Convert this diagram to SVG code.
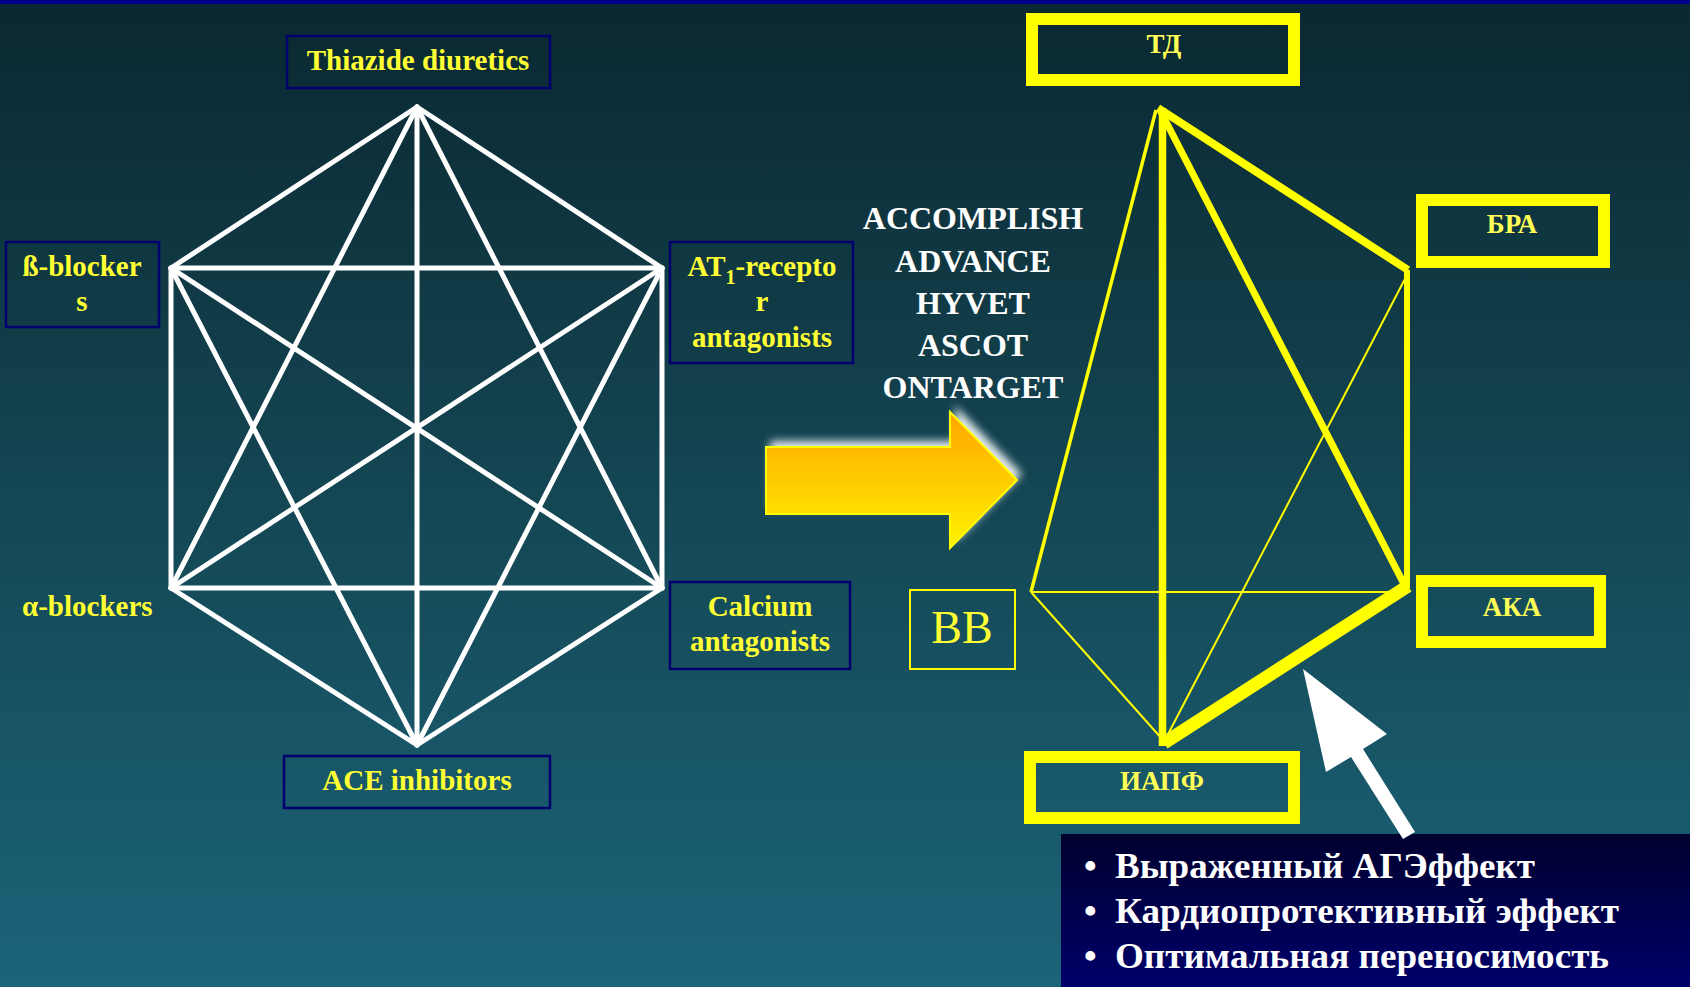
<svg xmlns="http://www.w3.org/2000/svg" width="1690" height="987" viewBox="0 0 1690 987">
<defs>
<linearGradient id="bg" x1="0" y1="0" x2="0" y2="1">
<stop offset="0" stop-color="#0a2831"/>
<stop offset="0.5" stop-color="#144653"/>
<stop offset="1" stop-color="#1b6479"/>
</linearGradient>
<linearGradient id="arrowFill" x1="0" y1="0" x2="0" y2="1">
<stop offset="0" stop-color="#ffa500"/>
<stop offset="1" stop-color="#fff200"/>
</linearGradient>
<linearGradient id="navy" x1="0" y1="0" x2="0" y2="1">
<stop offset="0" stop-color="#00002e"/>
<stop offset="1" stop-color="#00006a"/>
</linearGradient>
<filter id="glow" x="-20%" y="-30%" width="140%" height="160%">
<feGaussianBlur stdDeviation="4"/>
</filter>
<style>
.lbl{font-family:"Liberation Serif","Times New Roman",serif;font-weight:bold;font-size:29px;fill:#ffff33;text-anchor:middle}
.rl{font-family:"Liberation Serif","Times New Roman",serif;font-weight:bold;font-size:27px;fill:#ffff55;text-anchor:middle}
.trial{font-family:"Liberation Serif","Times New Roman",serif;font-weight:bold;font-size:32px;fill:#ffffff;text-anchor:middle}
.bul{font-family:"Liberation Serif","Times New Roman",serif;font-weight:bold;font-size:36px;fill:#ffffff}
.box{fill:none;stroke:#00006e;stroke-width:2.5}
.ybox{fill:none;stroke:#ffff00;stroke-width:12}
.hex line{stroke:#ffffff;stroke-width:5;stroke-linecap:round}
.pyr line{stroke:#ffff00;stroke-linecap:butt}
</style>
</defs>
<rect x="0" y="0" width="1690" height="987" fill="url(#bg)"/>
<rect x="0" y="0" width="1690" height="4" fill="#00008c"/>

<!-- Left hexagon connectors -->
<g id="connectors-hex" class="hex">
<line x1="417" y1="107" x2="171" y2="268"/>
<line x1="417" y1="107" x2="662" y2="268"/>
<line x1="417" y1="107" x2="417" y2="745"/>
<line x1="417" y1="107" x2="171" y2="588"/>
<line x1="417" y1="107" x2="662" y2="588"/>
<line x1="171" y1="268" x2="662" y2="268"/>
<line x1="171" y1="268" x2="171" y2="588"/>
<line x1="171" y1="268" x2="662" y2="588"/>
<line x1="171" y1="268" x2="417" y2="745"/>
<line x1="662" y1="268" x2="662" y2="588"/>
<line x1="662" y1="268" x2="171" y2="588"/>
<line x1="662" y1="268" x2="417" y2="745"/>
<line x1="171" y1="588" x2="662" y2="588"/>
<line x1="171" y1="588" x2="417" y2="745"/>
<line x1="662" y1="588" x2="417" y2="745"/>
</g>

<g id="node-thiazide">
<rect class="box" x="287" y="36" width="263" height="52"/>
<text class="lbl" x="418" y="70">Thiazide diuretics</text>
</g>
<g id="node-beta">
<rect class="box" x="6" y="242" width="153" height="85"/>
<text class="lbl" x="82" y="276">ß-blocker</text>
<text class="lbl" x="82" y="311">s</text>
</g>
<g id="node-at1">
<rect class="box" x="670" y="242" width="183" height="121"/>
<text class="lbl" x="762" y="276">AT<tspan font-size="20" dy="8">1</tspan><tspan dy="-8">-recepto</tspan></text>
<text class="lbl" x="762" y="311">r</text>
<text class="lbl" x="762" y="347">antagonists</text>
</g>
<g id="node-alpha">
<text class="lbl" x="22" y="616" style="text-anchor:start">α-blockers</text>
</g>
<g id="node-calcium">
<rect class="box" x="670" y="582" width="180" height="87"/>
<text class="lbl" x="760" y="616">Calcium</text>
<text class="lbl" x="760" y="651">antagonists</text>
</g>
<g id="node-ace">
<rect class="box" x="284" y="756" width="266" height="52"/>
<text class="lbl" x="417" y="790">ACE inhibitors</text>
</g>

<!-- Big arrow -->
<g id="big-arrow">
<polygon points="770,441 955,441 955,406 1022,474 955,542 955,508 770,508" fill="#ffffff" opacity="0.9" filter="url(#glow)"/>
<polygon points="766,447 950,447 950,412 1017,480 950,548 950,514 766,514" fill="url(#arrowFill)" stroke="#ffff00" stroke-width="2"/>
</g>

<g id="trials">
<text class="trial" x="973" y="229">ACCOMPLISH</text>
<text class="trial" x="973" y="272">ADVANCE</text>
<text class="trial" x="973" y="314">HYVET</text>
<text class="trial" x="973" y="356">ASCOT</text>
<text class="trial" x="973" y="398">ONTARGET</text>
</g>

<!-- Pyramid connectors -->
<g id="connectors-pyramid" class="pyr">
<line x1="1156" y1="110" x2="1031" y2="592" stroke-width="3.5"/>
<line x1="1031" y1="592" x2="1406" y2="592" stroke-width="2"/>
<line x1="1031" y1="592" x2="1163" y2="740" stroke-width="2"/>
<line x1="1407" y1="275" x2="1165" y2="740" stroke-width="2"/>
<line x1="1162.5" y1="108" x2="1162.5" y2="746" stroke-width="7.5"/>
<line x1="1158" y1="108" x2="1408" y2="270" stroke-width="8"/>
<line x1="1160" y1="110" x2="1406" y2="588" stroke-width="7"/>
<line x1="1407" y1="270" x2="1407" y2="588" stroke-width="6"/>
<line x1="1408" y1="586" x2="1164" y2="743" stroke-width="13"/>
</g>

<g id="node-td">
<rect class="ybox" x="1032" y="19" width="262" height="61"/>
<text class="rl" x="1164" y="53">ТД</text>
</g>
<g id="node-bra">
<rect class="ybox" x="1422" y="200" width="182" height="62"/>
<text class="rl" x="1512" y="233">БРА</text>
</g>
<g id="node-aka">
<rect class="ybox" x="1422" y="581" width="178" height="61"/>
<text class="rl" x="1512" y="616">АКА</text>
</g>
<g id="node-iapf">
<rect class="ybox" x="1030" y="757" width="264" height="61"/>
<text class="rl" x="1162" y="790">ИАПФ</text>
</g>
<g id="node-bb">
<rect x="910" y="590" width="105" height="79" fill="none" stroke="#ffff00" stroke-width="2"/>
<text x="962" y="643" font-family="Liberation Serif, Times New Roman, serif" font-size="46" fill="#ffff33" text-anchor="middle">ВВ</text>
</g>

<g id="info-box">
<rect x="1061" y="834" width="629" height="153" fill="url(#navy)"/>
<text class="bul" x="1084" y="878">•</text>
<text class="bul" x="1115" y="878" textLength="420" lengthAdjust="spacingAndGlyphs">Выраженный АГЭффект</text>
<text class="bul" x="1084" y="923">•</text>
<text class="bul" x="1115" y="923" textLength="504" lengthAdjust="spacingAndGlyphs">Кардиопротективный эффект</text>
<text class="bul" x="1084" y="968">•</text>
<text class="bul" x="1115" y="968" textLength="494" lengthAdjust="spacingAndGlyphs">Оптимальная переносимость</text>
</g>

<g id="white-arrow">
<polygon points="1303,669 1387,734 1363,749 1415,832 1403,839 1351,757 1326,772" fill="#ffffff"/>
</g>
</svg>
